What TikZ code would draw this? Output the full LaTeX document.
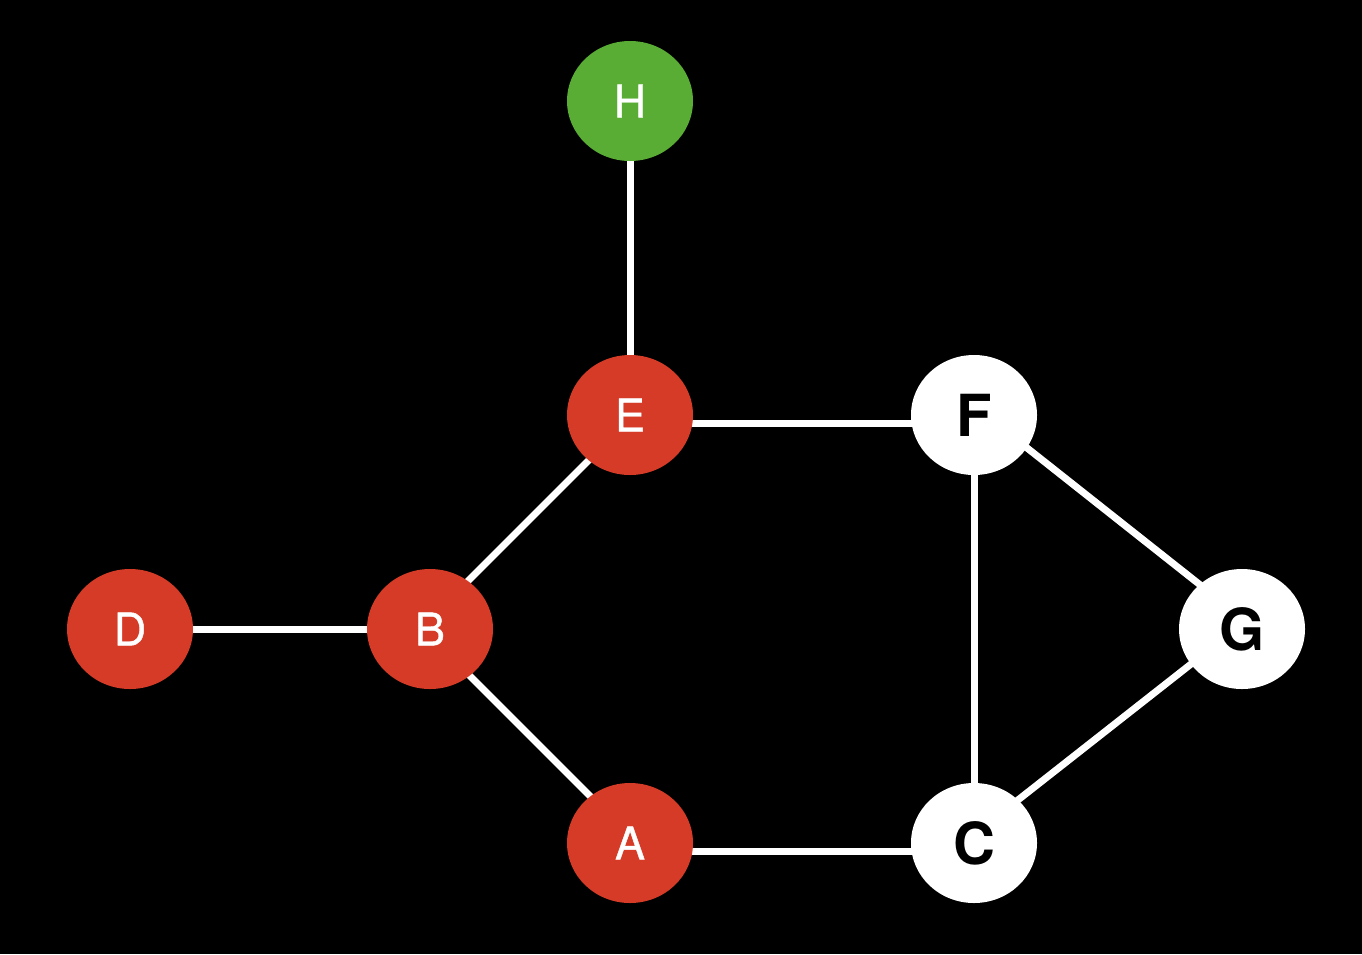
\documentclass[tikz,border=0pt]{standalone}
\usepackage{fontspec}
\setmainfont{TeX Gyre Heros}
\newfontfamily\medfont[FakeBold=0.9]{TeX Gyre Heros}
\usetikzlibrary{shapes.geometric,calc}
\definecolor{nodered}{HTML}{D63B27}
\definecolor{nodegreen}{HTML}{5AAD34}
\pgfdeclarelayer{bg}
\pgfsetlayers{bg,main}
\begin{document}
\begin{tikzpicture}[x=1pt,y=-1pt,
  vtx/.style={ellipse, minimum width=126pt, minimum height=120pt, inner sep=0pt},
  redv/.style={vtx, fill=nodered, text=white, font=\medfont\fontsize{45}{45}\selectfont},
  greenv/.style={vtx, fill=nodegreen, text=white, font=\medfont\fontsize{45}{45}\selectfont},
  whitev/.style={vtx, fill=white, text=black, font=\fontsize{58}{58}\selectfont\bfseries},
  edge/.style={draw=white, line width=7pt}]
\useasboundingbox (0,0) rectangle (1362,954);
\node[greenv] (H) at (630,101) {H};
\node[redv] (E) at (630,415) {E};
\node[whitev] (F) at (974,415) {F};
\node[redv] (D) at (130,629) {D};
\node[redv] (B) at (430,629) {B};
\node[whitev] (G) at (1242,629) {G};
\node[redv] (A) at (630,843) {A};
\node[whitev] (C) at (974,843) {C};
\begin{pgfonlayer}{bg}
\fill[black] (0,0) rectangle (1362,954);
\draw[edge] (H) -- (E);
\draw[edge] ($(E)+(0,8.5)$) -- ($(F)+(0,8.5)$);
\draw[edge] (D) -- (B);
\draw[edge] ($(E)+(4,0)$) -- ($(B)+(-10,0)$);
\draw[edge] ($(B)+(-7,0)$) -- ($(A)+(7,0)$);
\draw[edge] ($(A)+(0,8)$) -- ($(C)+(0,8)$);
\draw[edge] (F) -- (C);
\draw[edge] ($(F)+(0,-9)$) -- ($(G)+(0,-11)$);
\draw[edge] ($(G)+(0,-5)$) -- ($(C)+(0,-8.5)$);
\end{pgfonlayer}
\end{tikzpicture}
\end{document}
